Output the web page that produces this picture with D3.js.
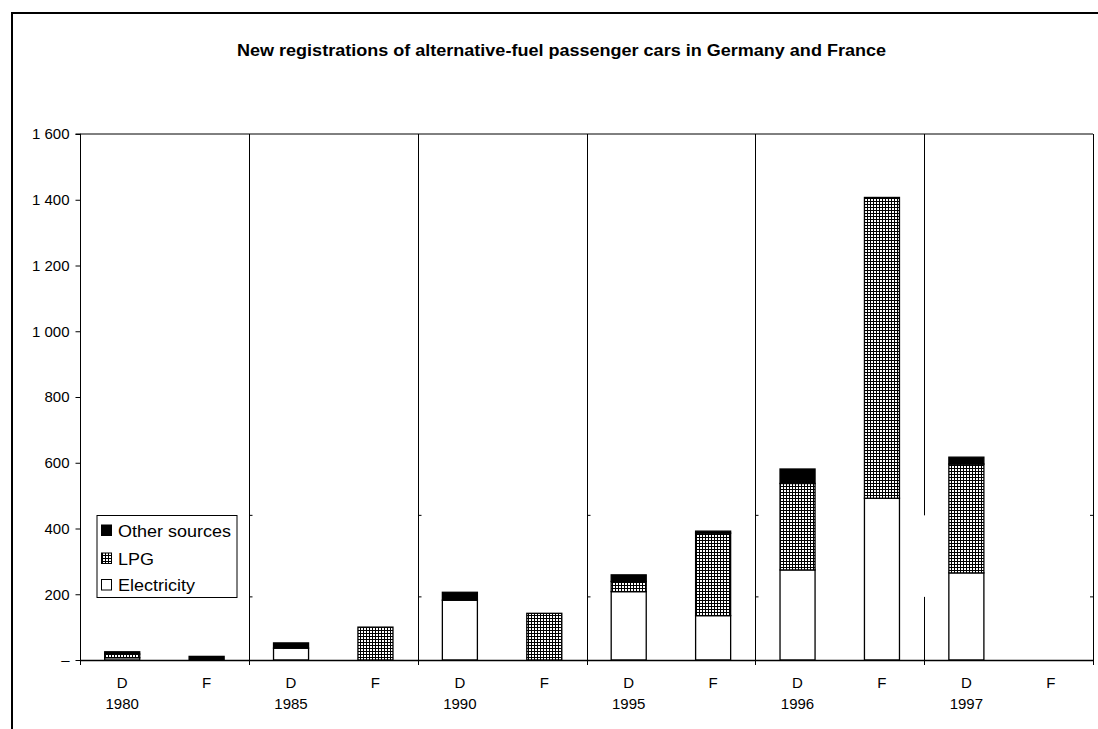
<!DOCTYPE html>
<html><head><meta charset="utf-8">
<script src="https://cdn.jsdelivr.net/npm/d3@7"></script>
<style>body{margin:0;background:#fff;} svg{display:block;font-family:"Liberation Sans",Arial,sans-serif;}</style>
</head><body>
<svg id="c" width="1098" height="729"></svg>
<script>
const title = "New registrations of alternative-fuel passenger cars in Germany and France";
const years = ["1980","1985","1990","1995","1996","1997"];
const countries = ["D","F"];
const seriesNames = ["Electricity","LPG","Other sources"];
// values per category in order: 1980 D, 1980 F, 1985 D, 1985 F, ...
const electricity = [7, 0, 36, 0, 182, 0, 208, 135, 274, 492, 265, 0];
const lpg         = [11, 0, 0, 100, 0, 142, 31, 251, 263, 915, 331, 0];
const other       = [7, 11, 16, 0, 24, 0, 20, 6, 44, 0, 21, 0];
const yTicks = [0,200,400,600,800,1000,1200,1400,1600];

const svg = d3.select("#c");
const defs = svg.append("defs");
const pat = defs.append("pattern").attr("id","lpg").attr("patternUnits","userSpaceOnUse")
  .attr("width",3).attr("height",3);
pat.append("rect").attr("width",3).attr("height",3).attr("fill","#fff");
pat.append("rect").attr("x",0).attr("y",0).attr("width",3).attr("height",1).attr("fill","#000");
pat.append("rect").attr("x",0).attr("y",0).attr("width",1).attr("height",3).attr("fill","#000");

// outer frame
svg.append("rect").attr("x",12).attr("y",13).attr("width",1200).attr("height",800)
  .attr("fill","none").attr("stroke","#000").attr("stroke-width",2);

const tt = svg.append("text").attr("x",561.5).attr("y",56).attr("text-anchor","middle")
  .attr("font-weight","bold").attr("font-size",16).text(title);
tt.attr("textLength",649).attr("lengthAdjust","spacingAndGlyphs");

const L=80, R=1093, T=134, B=660;
const cats = [];
years.forEach(y=>countries.forEach(c=>cats.push(y+"-"+c)));
const x = d3.scaleBand().domain(cats).range([L,R]).paddingInner(0.585).paddingOuter(0.2925);
const y = d3.scaleLinear().domain([0,1600]).range([B,T]);
const step = x.step();

// plot box
const g = svg.append("g");
g.append("line").attr("x1",L).attr("x2",R).attr("y1",T).attr("y2",T).attr("stroke","#000");
g.append("line").attr("x1",R+0.5).attr("x2",R+0.5).attr("y1",T).attr("y2",B).attr("stroke","#000");

// dividers between years
const gapY1 = y(440), gapY2 = y(192);
years.forEach((yr,i)=>{
  if(i===0) return;
  const xx = Math.round(L + i*2*step)+0.5;
  if(i===5){
    g.append("line").attr("x1",xx).attr("x2",xx).attr("y1",T).attr("y2",gapY1).attr("stroke","#000");
    g.append("line").attr("x1",xx).attr("x2",xx).attr("y1",gapY2).attr("y2",B).attr("stroke","#000");
  } else {
    g.append("line").attr("x1",xx).attr("x2",xx).attr("y1",T).attr("y2",B).attr("stroke","#000");
    [gapY1,gapY2].forEach(yy=>g.append("line").attr("x1",xx).attr("x2",xx+3).attr("y1",yy).attr("y2",yy).attr("stroke","#000"));
  }
});
[gapY1,gapY2].forEach(yy=>g.append("line").attr("x1",R).attr("x2",R-3).attr("y1",yy).attr("y2",yy).attr("stroke","#000"));

// y axis
const yAxis = d3.axisLeft(y).tickValues(yTicks).tickSize(5).tickPadding(6)
  .tickFormat(d=> d===0 ? "–" : d3.format(",")(d).replace(/,/g," "));
const ya = svg.append("g").attr("transform",`translate(${L+0.5},0)`).call(yAxis);
ya.selectAll("text").attr("font-size",15).attr("fill","#000").attr("font-family","Liberation Sans, Arial, sans-serif");
ya.selectAll("line,path").attr("stroke","#000");
ya.select(".domain").attr("d",`M-5,${T}H0V${B}`);

// bars
const data = cats.map((c,i)=>({cat:c, vals:[electricity[i], lpg[i], other[i]]}));
const fills = ["#fff","url(#lpg)","#000"];
const bars = svg.append("g");
data.forEach(d=>{
  let base = 0;
  d.vals.forEach((v,k)=>{
    if(v<=0) return;
    bars.append("rect").attr("x",x(d.cat)).attr("width",x.bandwidth())
      .attr("y",y(base+v)).attr("height",y(base)-y(base+v))
      .attr("fill",fills[k]).attr("stroke","#000").attr("stroke-width",1.3);
    base += v;
  });
});

// x axis
svg.append("line").attr("x1",L).attr("x2",R).attr("y1",B+0.5).attr("y2",B+0.5).attr("stroke","#000").attr("stroke-width",1.3);
years.forEach((yr,i)=>{
  const xx = Math.round(L + i*2*step)+0.5;
  svg.append("line").attr("x1",xx).attr("x2",xx).attr("y1",B).attr("y2",B+5).attr("stroke","#000");
});
svg.append("line").attr("x1",R+0.5).attr("x2",R+0.5).attr("y1",B).attr("y2",B+5).attr("stroke","#000");
const xl = svg.append("g").attr("font-size",15).attr("text-anchor","middle");
cats.forEach(c=>{
  const [yr,ct] = c.split("-");
  const cx = x(c)+x.bandwidth()/2;
  xl.append("text").attr("x",cx).attr("y",688).text(ct);
  if(ct==="D") xl.append("text").attr("x",cx).attr("y",709).text(yr);
});

// legend
const lg = svg.append("g");
lg.append("rect").attr("x",97).attr("y",515.5).attr("width",140).attr("height",82)
  .attr("fill","#fff").attr("stroke","#000");
const legItems = [["Other sources","#000",536.5],["LPG","url(#lpg)",564.5],["Electricity","#fff",591]];
legItems.forEach(([name,f,by])=>{
  lg.append("rect").attr("x",101.5).attr("y",by-11.5).attr("width",10).attr("height",10.5)
    .attr("fill",f).attr("stroke","#000");
  const t = lg.append("text").attr("x",118).attr("y",by).attr("font-size",16.5).text(name);
  const w = t.node().getComputedTextLength();
  t.attr("textLength", w*1.09).attr("lengthAdjust","spacingAndGlyphs");
});
</script>
</body></html>
